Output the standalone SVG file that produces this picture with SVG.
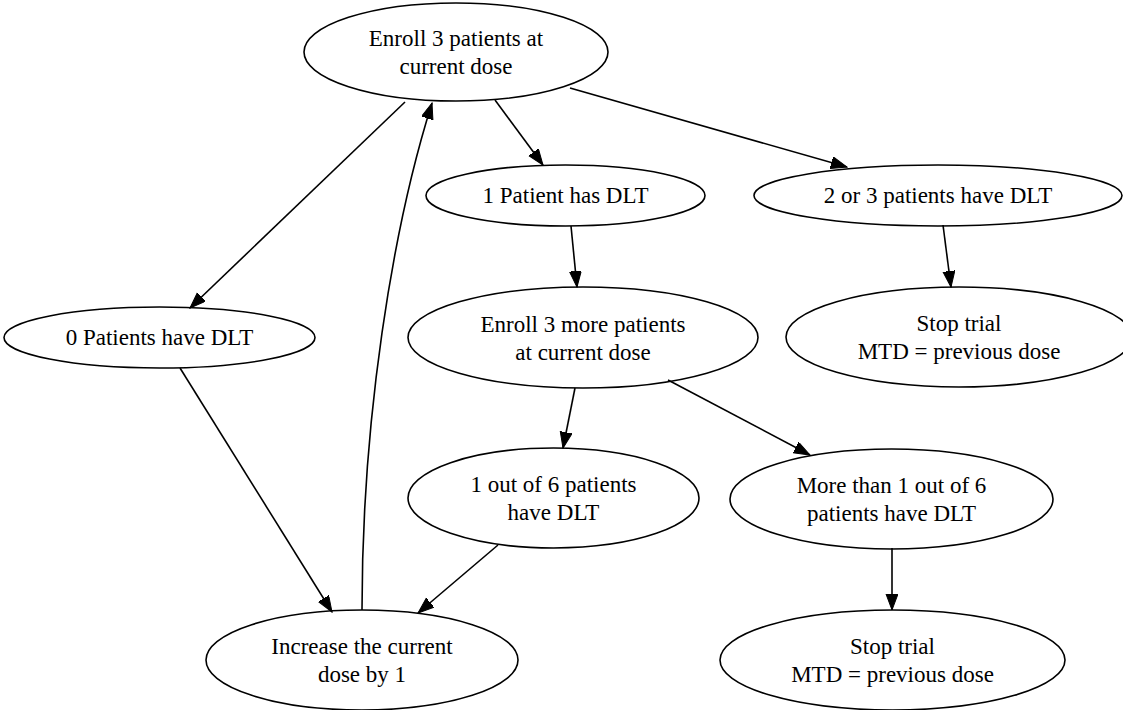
<svg xmlns="http://www.w3.org/2000/svg" width="1123" height="710" viewBox="0 0 1123 710">
<style>
.n ellipse{fill:none;stroke:#000;stroke-width:1.6}
.n text{font-family:"Liberation Serif","Times New Roman",serif;font-size:23px;fill:#000;text-anchor:middle}
.e path{fill:none;stroke:#000;stroke-width:1.6;marker-end:url(#ah)}
</style>
<defs>
<marker id="ah" markerUnits="userSpaceOnUse" markerWidth="17" markerHeight="13" refX="16" refY="6" orient="auto">
<path d="M0,0 L16,6 L0,12 z" fill="#000" stroke="#000" stroke-width="1"/>
</marker>
</defs>
<rect width="1123" height="710" fill="#fff"/>
<g id="edges" class="e">
<path d="M405,102 L190,308"/>
<path d="M495,100 L543,165"/>
<path d="M570,88 L847,167"/>
<path d="M571,226 L577,287"/>
<path d="M943,225 L951,287"/>
<path d="M180,368 L332,612"/>
<path d="M362,610 C362,420 392,230 432,103"/>
<path d="M575,388 L563,448"/>
<path d="M668,380 L810,455"/>
<path d="M498,545 L418,613"/>
<path d="M892,548 L892,610"/>
</g>
<g id="n1" class="n"><ellipse cx="456" cy="52" rx="152" ry="49"/><text x="456" y="46">Enroll 3 patients at</text><text x="456" y="74">current dose</text></g>
<g id="n2" class="n"><ellipse cx="565.5" cy="195.5" rx="139.5" ry="30.5"/><text x="565.5" y="203">1 Patient has DLT</text></g>
<g id="n3" class="n"><ellipse cx="938" cy="195.5" rx="184" ry="30.5"/><text x="938" y="203">2 or 3 patients have DLT</text></g>
<g id="n4" class="n"><ellipse cx="159.5" cy="337.5" rx="155.5" ry="30.5"/><text x="159.5" y="345">0 Patients have DLT</text></g>
<g id="n5" class="n"><ellipse cx="583" cy="337.5" rx="175" ry="50.5"/><text x="583" y="332">Enroll 3 more patients</text><text x="583" y="360">at current dose</text></g>
<g id="n6" class="n"><ellipse cx="959" cy="337" rx="173" ry="50"/><text x="959" y="331">Stop trial</text><text x="959" y="359">MTD = previous dose</text></g>
<g id="n7" class="n"><ellipse cx="553.5" cy="498" rx="145.5" ry="50"/><text x="553.5" y="492">1 out of 6 patients</text><text x="553.5" y="520">have DLT</text></g>
<g id="n8" class="n"><ellipse cx="891.5" cy="499" rx="161.5" ry="50"/><text x="891.5" y="493">More than 1 out of 6</text><text x="891.5" y="521">patients have DLT</text></g>
<g id="n9" class="n"><ellipse cx="362" cy="660" rx="156" ry="50"/><text x="362" y="654">Increase the current</text><text x="362" y="682">dose by 1</text></g>
<g id="n10" class="n"><ellipse cx="892.5" cy="660" rx="172.5" ry="50"/><text x="892.5" y="654">Stop trial</text><text x="892.5" y="682">MTD = previous dose</text></g>
</svg>
